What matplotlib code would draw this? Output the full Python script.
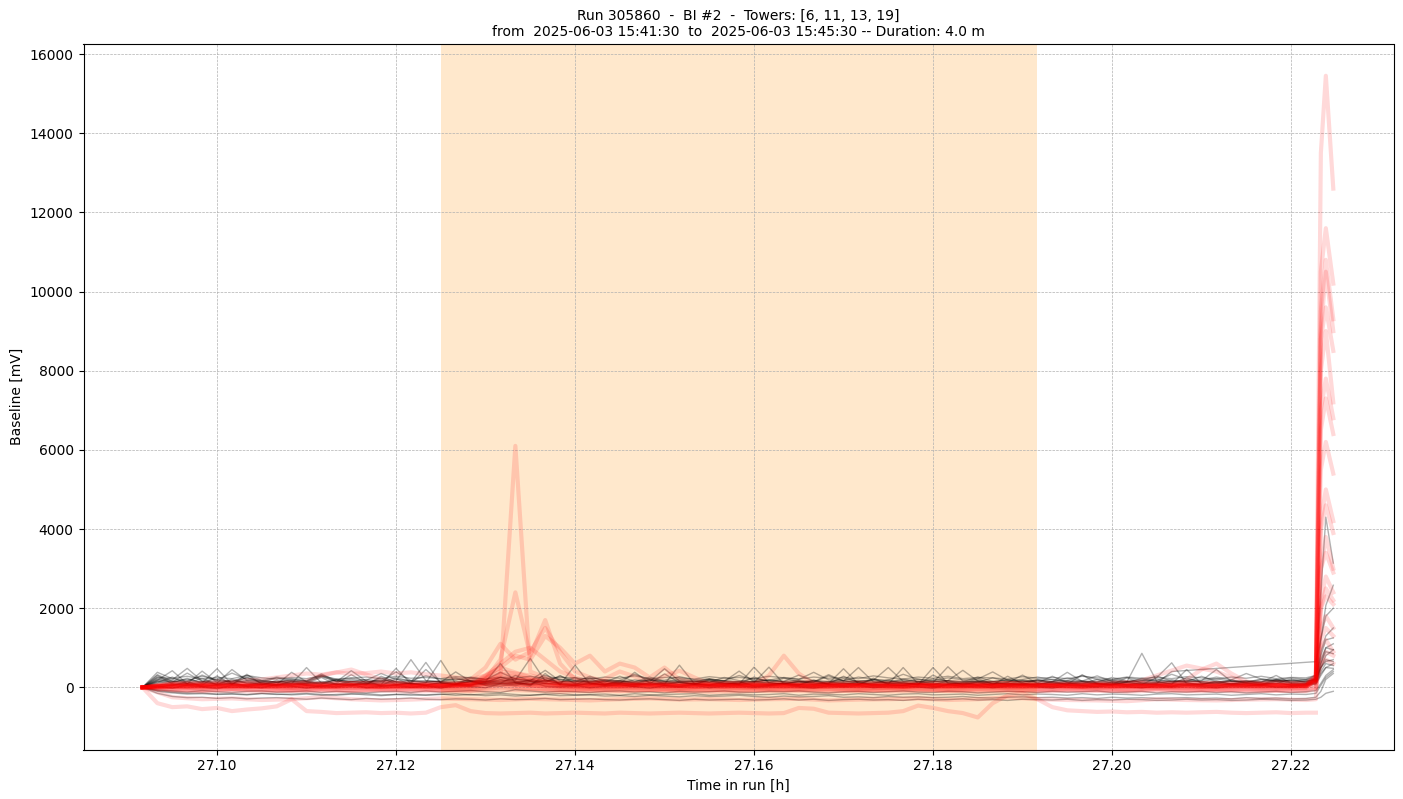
import numpy as np
import matplotlib
matplotlib.use("Agg")
import matplotlib.pyplot as plt

# ---------------- data ----------------
T_START_H = 27.091667          # first sample, hours in run
FINE_SECONDS = list(range(0, 469, 6)) + [472, 474, 476, 479]
COARSE_SECONDS = list(range(0, 469, 12)) + [472, 474, 476, 479]
WINDOW_START_H = 27.125
WINDOW_END_H = 27.191667

N = None

# black traces (fine grid)
black_1 = [0, 320, 150, 90, 410, 120, 80, 260, 110, 70,
           380, 140, 90, 210, 100, 60, 280, 130, 90, 450,
           120, 80, 230, 140, 100, 300, 160, 90, 120, 250,
           100, 70, 180, 110, 90, 340, 120, 80, 200, 110,
           90, 260, 130, 80, 150, 110, 90, 280, 120, 100,
           190, 90, 70, 310, 130, 100, 220, 90, 80, 170,
           110, 280, 120, 90, 200, 100, 140, 860, 150, 90,
           240, 120, 80, 190, 100, 130, 300, 110, 150,
           200, 900, 1300, 1500]
black_2 = [0, 180, 420, 90, 60, 290, 70, 330, 80, 50,
           160, 90, 250, 60, 130, 80, 40, 220, 70, 110,
           680, 90, 60, 140, 600, 110, 80, 260, 90, 60,
           230, 70, 110, 50, 180, 80, 560, 90, 60, 150,
           70, 120, 510, 80, 60, 190, 70, 110, 60, 230,
           80, 500, 90, 60, 170, 70, 120, 60, 280, 90,
           60, 150, 80, 320, 90, 60, 130, 70, 250, 620,
           90, 60, 170, 80, 110, 60, 200, 90, 100,
           150, 500, 700, 650]
black_3 = [0, 250, 190, 480, 160, 210, 140, 300, 180, 130,
           220, 160, 340, 150, 200, 130, 190, 160, 700, 170,
           140, 210, 160, 130, 250, 180, 730, 160, 200, 140,
           170, 130, 280, 150, 190, 140, 210, 160, 130, 250,
           170, 140, 190, 150, 310, 160, 130, 220, 150, 180,
           500, 150, 130, 210, 160, 140, 260, 150, 180, 130,
           170, 200, 140, 160, 290, 150, 130, 230, 160, 190,
           140, 170, 450, 150, 130, 210, 160, 180, 200,
           300, 2400, 4300, 3140]
black_4 = [0, 120, 260, 90, 150, 70, 210, 100, 60, 180,
           90, 500, 110, 70, 160, 90, 240, 80, 120, 630,
           100, 70, 150, 90, 130, 80, 200, 110, 300, 90,
           70, 160, 100, 80, 220, 90, 130, 70, 180, 100,
           80, 510, 110, 90, 160, 70, 140, 100, 80, 200,
           90, 130, 70, 500, 100, 80, 170, 90, 110, 70,
           190, 100, 80, 150, 90, 70, 240, 100, 130, 80,
           450, 90, 120, 80, 160, 100, 90, 210, 120,
           180, 1200, 2070, 2580]
black_5 = [0, 90, 40, 150, 20, 60, 110, 30, 80, 40,
           130, 50, 20, 90, 40, 170, 30, 60, 100, 40,
           20, 80, 140, 50, 30, 90, 40, 350, 60, 30,
           110, 40, 70, 20, 130, 50, 30, 90, 40, 60,
           150, 30, 50, 100, 40, 20, 80, 50, 130, 30,
           60, 40, 110, 20, 70, 50, 140, 30, 60, 90,
           40, 20, 100, 50, 30, 130, 60, 40, 80, 30,
           120, 50, 30, 90, 60, 40, 150, 50, 70,
           120, 500, 800, 950]
black_6 = [0, -80, -120, -150, -140, -170, -160, -180, -150, -170,
           -190, -170, -200, -180, -160, -190, -210, -180, -200, -190,
           -170, -200, -180, -210, -190, -220, -200, -180, -210, -200,
           -190, -220, -210, -230, -200, -220, -240, -210, -230, -220,
           -200, -230, -250, -220, -240, -230, -210, -250, -240, -260,
           -230, -250, -240, -260, -250, -230, -260, -270, -250, -240,
           -260, -250, -270, -260, -280, -250, -270, -260, -280, -270,
           -260, -280, -270, -290, -260, -280, -270, -290, -280,
           -250, -100, 200, 350]
black_7 = [0, -150, -230, -260, -250, -280, -260, -290, -270, -260,
           -280, -300, -270, -290, -310, -280, -300, -290, -270, -300,
           -310, -290, -300, -320, -290, -310, -300, -280, -310, -300,
           -290, -310, -320, -300, -290, -310, -330, -300, -320, -310,
           -300, -320, -310, -290, -320, -300, -330, -310, -300, -320,
           -310, -330, -300, -320, -310, -290, -320, -310, -330, -300,
           -310, -320, -300, -330, -310, -320, -300, -310, -330, -320,
           -300, -320, -310, -330, -320, -300, -310, -330, -320,
           -300, -250, -150, -100]
black_8 = [0, -60, -90, -120, -80, -110, -130, -100, -90, -120,
           -110, -90, -130, -100, -120, -140, -110, -100, -130, -90,
           -120, -100, -80, -110, -130, -60, -90, -120, -100, -110,
           -130, -100, -90, -120, -110, -140, -100, -120, -110, -90,
           -120, -130, -100, -110, -90, -120, -140, -110, -100, -130,
           -110, -90, -120, -130, -100, -110, -140, -120, -100, -110,
           -130, -100, -120, -110, -90, -130, -120, -100, -140, -110,
           -120, -100, -130, -110, -140, -120, -100, -130, -110,
           -80, 100, 300, 450]
black_9 = [0, 200, 130, 360, 150, 110, 450, 170, 130, 240,
           150, 120, 290, 140, 420, 160, 130, 250, 150, 170,
           130, 390, 150, 120, 200, 140, 170, 430, 160, 130,
           280, 150, 120, 190, 140, 470, 160, 130, 220, 150,
           410, 140, 120, 230, 150, 130, 290, 160, 500, 140,
           130, 210, 150, 120, 520, 160, 130, 240, 150, 130,
           200, 140, 380, 150, 130, 250, 160, 140, 210, 130,
           150, 280, 140, 160, 130, 190, 150, 170, 140,
           200, 600, 1000, 1100]
black_10 = [0, 140, 70, 100, 230, 60, 90, 150, 70, 120,
            60, 110, 80, 180, 60, 90, 140, 70, 100, 60,
            120, 80, 170, 60, 100, 130, 70, 190, 80, 60,
            110, 70, 150, 90, 60, 120, 80, 100, 170, 60,
            90, 130, 70, 110, 60, 160, 80, 90, 130, 70,
            100, 60, 140, 80, 110, 70, 90, 150, 60, 100,
            80, 130, 70, 110, 90, 60, 140, 80, 100, 400,
            N, N, N, N, N, N, N, N, N,
            650, N, 1800, 2000]
black_11 = [0, 380, 220, 170, 280, 190, 360, 210, 170, 260,
            200, 170, 310, 190, 230, 180, 350, 200, 170, 290,
            210, 180, 260, 190, 380, 210, 170, 300, 200, 180,
            240, 190, 170, 330, 200, 180, 270, 190, 210, 170,
            300, 190, 180, 250, 200, 380, 190, 170, 260, 200,
            180, 330, 200, 170, 240, 190, 210, 390, 180, 200,
            260, 190, 170, 300, 200, 180, 250, 190, 170, 330,
            200, 180, 260, 190, 350, 210, 180, 240, 200,
            250, 700, 1000, 950]
black_12 = [0, 40, -20, 60, 10, -30, 50, 20, -10, 70,
            30, -20, 40, 10, 80, -10, 30, 50, 0, 40,
            -20, 60, 20, -10, 90, 40, 150, 30, 10, 50,
            -10, 30, 70, 20, -20, 40, 10, 60, -10, 30,
            50, 0, 30, 80, 10, -20, 40, 20, 60, -10,
            30, 50, 10, -20, 70, 20, 40, -10, 30, 60,
            10, -20, 50, 30, 0, 80, 20, -10, 40, 10,
            60, 20, -10, 40, 30, 70, 0, 20, 50,
            80, 300, 500, 600]
black_13 = [0, 220, 160, 140, 310, 170, 150, 240, 160, 130,
            180, 150, 270, 160, 140, 200, 150, 390, 170, 140,
            160, 240, 150, 170, 140, 210, 160, 150, 280, 170,
            150, 190, 160, 140, 260, 150, 170, 140, 200, 160,
            140, 230, 160, 150, 180, 140, 320, 160, 150, 190,
            160, 140, 210, 150, 170, 430, 160, 140, 200, 150,
            170, 140, 240, 160, 150, 190, 140, 170, 290, 150,
            160, 140, 220, 150, 170, 140, 200, 160, 180,
            220, 500, 650, 700]
black_14 = [0, 150, 110, 230, 100, 90, 170, 120, 100, 140,
            110, 90, 150, 100, 320, 110, 90, 140, 100, 120,
            90, 150, 110, 100, 180, 120, 90, 160, 110, 100,
            140, 100, 90, 380, 110, 100, 150, 90, 120, 100,
            110, 160, 100, 90, 140, 110, 100, 170, 90, 110,
            130, 100, 90, 160, 110, 100, 140, 90, 120, 310,
            100, 90, 150, 110, 100, 130, 90, 120, 100, 160,
            110, 90, 140, 100, 120, 90, 160, 110, 100,
            150, 400, 600, 550]
black_15 = [0, 260, 230, 280, 210, 250, 220, 300, 240, 210,
            250, 220, 290, 210, 240, 260, 220, 280, 230, 250,
            220, 270, 240, 210, 260, 230, 280, 220, 250, 240,
            210, 260, 230, 290, 220, 250, 240, 210, 270, 230,
            250, 220, 280, 240, 210, 260, 230, 250, 220, 290,
            240, 210, 260, 230, 280, 220, 250, 240, 210, 270,
            230, 250, 220, 280, 240, 210, 260, 230, 250, 220,
            270, 240, 210, 260, 230, 280, 220, 250, 240,
            300, 800, 1200, 1250]
black_16 = [0, -100, -140, -170, -160, -180, -170, -190, -160, -180,
            -170, -150, -180, -200, -170, -160, -190, -180, -170, -200,
            -180, -160, -190, -170, -150, -180, -200, -170, -160, -190,
            -180, -170, -200, -160, -190, -180, -170, -160, -200, -180,
            -170, -190, -180, -160, -200, -170, -180, -190, -160, -180,
            -200, -170, -160, -190, -180, -170, -200, -180, -160, -190,
            -170, -180, -200, -160, -190, -170, -180, -200, -170, -160,
            -190, -180, -170, -200, -180, -160, -190, -170, -180,
            -150, 50, 250, 400]
black_17 = [0, 300, 90, 60, 110, 470, 80, 60, 130, 70,
            90, 60, 120, 80, 60, 100, 70, 480, 90, 60,
            110, 70, 60, 90, 80, 120, 60, 100, 70, 560,
            80, 60, 110, 70, 90, 60, 130, 80, 60, 100,
            70, 90, 60, 120, 80, 60, 100, 470, 90, 60,
            80, 110, 60, 90, 70, 120, 60, 80, 100, 60,
            90, 70, 120, 60, 80, 100, 60, 90, 70, 110,
            60, 80, 100, 60, 90, 70, 110, 60, 80,
            100, 350, 500, 480]
black_18 = [0, 170, 140, 200, 130, 160, 120, 180, 150, 130,
            160, 140, 120, 190, 150, 130, 170, 140, 160, 130,
            150, 120, 180, 140, 250, 160, 130, 190, 140, 160,
            130, 170, 140, 120, 180, 150, 130, 160, 140, 170,
            130, 150, 180, 140, 120, 170, 150, 130, 160, 140,
            120, 180, 150, 130, 170, 140, 160, 120, 150, 180,
            140, 130, 170, 150, 120, 160, 140, 180, 130, 150,
            170, 140, 120, 160, 150, 130, 180, 140, 160,
            180, 600, 900, 850]

# red traces (fine grid)
red_f1 = [0, 30, 10, 40, 20, 0, 30, 50, 20, 10,
          40, 20, 0, 30, 50, 20, 10, 40, 30, 20,
          30, 50, 70, 120, 300, 6100, 400, 250, 120, 80,
          60, 40, 30, 50, 20, 40, 30, 10, 30, 20,
          40, 20, 30, 50, 20, 10, 40, 30, 20, 40,
          30, 10, 40, 20, 30, 50, 20, 40, 10, 30,
          20, 40, 30, 10, 30, 20, 40, 30, 20, 50,
          30, 20, 40, 30, 10, 40, 30, 20, 50,
          200, 9500, 10800, 9300]
red_f2 = [0, 20, 40, 10, 30, 50, 20, 30, 10, 40,
          20, 30, 50, 20, 10, 40, 30, 20, 40, 10,
          30, 60, 90, 200, 700, 2400, 800, 1700, 600, 200,
          120, 80, 60, 40, 50, 30, 40, 20, 30, 50,
          30, 20, 40, 30, 50, 20, 30, 40, 20, 30,
          40, 20, 30, 50, 20, 40, 30, 20, 40, 30,
          20, 30, 40, 20, 50, 30, 20, 40, 30, 20,
          40, 30, 20, 50, 30, 20, 40, 30, 20,
          150, 8800, 9600, 8500]
red_f3 = [0, 40, 20, 50, 30, 10, 40, 20, 50, 30,
          20, 40, 30, 10, 50, 20, 40, 30, 20, 50,
          40, 80, 200, 500, 1100, 700, 900, 1500, 900, 400,
          250, 150, 100, 80, 60, 50, 40, 60, 30, 50,
          40, 80, 300, 800, 350, 100, 60, 40, 50, 30,
          40, 20, 50, 30, 40, 20, 50, 30, 40, 20,
          50, 30, 40, 20, 50, 30, 40, 20, 50, 30,
          40, 20, 50, 30, 40, 20, 50, 30, 40,
          180, 7000, 7800, 6800]
red_f4 = [0, 30, 50, 20, 40, 30, 50, 20, 40, 30,
          50, 30, 20, 40, 50, 30, 20, 40, 30, 50,
          30, 50, 100, 300, 500, 800, 700, 1300, 1000, 600,
          800, 400, 600, 500, 250, 500, 200, 120, 80, 60,
          50, 40, 60, 30, 50, 40, 60, 30, 50, 40,
          60, 30, 50, 40, 60, 30, 50, 40, 60, 30,
          50, 40, 60, 30, 50, 40, 60, 30, 50, 40,
          200, 450, 600, 350, 150, 80, 60, 40, 50,
          200, 5500, 6200, 5400]
red_f5 = [0, 50, 80, 120, 100, 150, 130, 180, 200, 250,
          300, 350, 320, 380, 340, 360, 400, 350, 380, 330,
          300, 250, 200, 300, 600, 900, 1000, 700, 400, 250,
          150, 100, 80, 60, 50, 70, 40, 60, 50, 40,
          60, 50, 40, 60, 50, 40, 60, 50, 40, 60,
          50, 40, 60, 50, 40, 60, 50, 40, 60, 50,
          40, 60, 50, 40, 60, 50, 40, 60, 50, 40,
          60, 50, 40, 60, 50, 40, 60, 50, 40,
          250, 10500, 11600, 10200]
red_f6 = [0, -400, -500, -480, -550, -520, -600, -560, -530, -480,
          -300, -600, -620, -650, -640, -630, -650, -640, -660, -640,
          -500, -450, -600, -650, -660, -650, -640, -660, -650, -640,
          -650, -660, -640, -650, -660, -650, -640, -650, -660, -650,
          -640, -650, -660, -650, -520, -540, -640, -650, -660, -650,
          -640, -600, -460, -520, -600, -650, -760, -400, -200, -150,
          -300, -500, -580, -600, -620, -610, -630, -620, -640, -630,
          -640, -630, -620, -640, -650, -640, -630, -650, -640,
          -640, N, N, N]

# red traces (coarse grid)
red_c1 = [0, 20, -10, 30, 10, 40, 20, 0, 30, 10,
          20, 40, 150, 60, 30, 10, 20, 40, 10, 30,
          20, 0, 30, 10, 40, 20, 30, 10, 20, 40,
          10, 30, 20, 0, 40, 20, 10, 30, 20, 40,
          300, 13500, 15450, 12600]
red_c2 = [0, 40, 60, 30, 50, 70, 40, 60, 30, 50,
          60, 80, 300, 200, 80, 60, 40, 70, 50, 60,
          40, 70, 50, 30, 60, 80, 50, 40, 70, 50,
          60, 40, 70, 50, 30, 60, 50, 70, 40, 60,
          250, 9000, 10500, 9000]
red_c3 = [0, -30, -10, -40, -20, -50, -30, -10, -40, -20,
          -30, -10, 100, 50, -20, -40, -10, -30, -50, -20,
          -10, -40, -30, -20, -50, -10, -30, -40, -20, -10,
          -40, -30, -20, -50, -10, -30, -40, -20, -30, -10,
          100, 8000, 9000, 7200]
red_c4 = [0, 80, 100, 70, 90, 110, 80, 100, 120, 90,
          100, 80, 400, 300, 120, 100, 90, 110, 80, 100,
          120, 90, 100, 80, 110, 90, 120, 100, 80, 110,
          90, 100, 80, 120, 90, 110, 100, 80, 120, 100,
          300, 4200, 5000, 4200]
red_c5 = [0, 10, 30, 0, 20, -10, 10, 30, 0, 20,
          10, 30, 200, 100, 20, 0, 10, 30, -10, 20,
          0, 10, 30, 20, 0, -10, 20, 10, 30, 0,
          20, 10, -10, 30, 0, 20, 10, 30, 20, 0,
          200, 3000, 3800, 3000]
red_c6 = [0, -60, -80, -50, -70, -90, -60, -80, -50, -70,
          -60, -80, 0, -30, -70, -50, -80, -60, -90, -70,
          -50, -80, -60, -70, -90, -60, -50, -80, -70, -60,
          -80, -60, -90, -70, -50, -80, -60, -70, -90, -80,
          0, 1500, 1800, 1500]
red_c7 = [0, 60, 40, 70, 50, 30, 60, 40, 70, 50,
          40, 60, 500, 250, 60, 40, 70, 50, 30, 60,
          40, 60, 50, 70, 40, 30, 60, 50, 40, 70,
          50, 40, 60, 30, 50, 70, 40, 60, 50, 40,
          200, 1000, 1200, 900]
red_c8 = [0, 30, 50, 20, 40, 60, 30, 50, 20, 40,
          30, 50, 100, 60, 40, 20, 50, 30, 40, 60,
          30, 50, 20, 40, 60, 30, 50, 40, 20, 50,
          40, 30, 50, 20, 40, 60, 30, 50, 40, 30,
          150, 600, 700, 600]
red_c9 = [0, -250, -300, -280, -320, -300, -250, -300, -330, -310,
          -280, -300, -320, -290, -310, -330, -300, -280, -310, -300,
          -320, -300, -290, -330, -310, -300, -280, -320, -300, -250,
          -300, -320, -330, -350, -300, -320, -330, -310, -300, -320,
          -300, 2000, 2500, 2200]
red_c10 = [0, 90, 70, 100, 80, 60, 90, 110, 70, 80,
           100, 70, 250, 150, 90, 80, 60, 100, 70, 90,
           80, 110, 70, 90, 60, 100, 80, 70, 90, 110,
           70, 80, 100, 60, 90, 80, 110, 70, 90, 80,
           200, 2200, 2800, 2400]
red_c11 = [0, -50, -70, -40, -60, -80, -50, -70, -60, -40,
           -70, -50, 50, -20, -60, -80, -40, -70, -50, -60,
           -80, -50, -60, -40, -70, -60, -50, -80, -40, -60,
           -70, -50, -60, -80, -40, -60, -70, -50, -60, -40,
           0, 600, 900, 800]
red_c12 = [0, 40, 30, 60, 50, 30, 300, 450, 200, 50,
           40, 60, 350, 200, 50, 30, 400, 150, 420, 80,
           100, 40, 60, 30, 50, 40, 60, 30, 50, 40,
           60, 30, 50, 40, 60, 30, 50, 40, 60, 30,
           150, 3000, 3400, 2900]
red_c13 = [0, 110, 90, 120, 100, 130, 90, 110, 120, 100,
           90, 120, 200, 180, 110, 100, 130, 90, 110, 120,
           100, 90, 130, 110, 120, 100, 90, 130, 110, 100,
           120, 90, 110, 130, 100, 120, 90, 110, 130, 100,
           250, 6500, 7300, 6400]
red_c14 = [0, -80, -100, -90, -110, -70, -100, -90, -80, -110,
           -90, -100, -60, -80, -110, -90, -100, -70, -90, -110,
           -100, -80, -90, -110, -70, -100, -90, -80, -110, -90,
           -100, -90, -70, -110, -80, -100, -90, -110, -80, -100,
           -50, 1200, 1500, 1300]
red_c15 = [0, 20, 10, 30, 20, 0, 20, 30, 10, 20,
           30, 10, 60, 40, 20, 30, 10, 20, 30, 0,
           20, 30, 10, 20, 40, 10, 20, 30, 20, 10,
           30, 20, 10, 30, 20, 0, 20, 30, 10, 20,
           150, 4000, 4600, 3900]
red_c16 = [0, 50, 60, 40, 50, 70, 40, 60, 50, 40,
           60, 50, 150, 100, 40, 60, 50, 70, 40, 50,
           60, 40, 50, 70, 50, 40, 60, 50, 40, 60,
           50, 70, 40, 60, 300, 550, 400, 100, 60, 50,
           200, 2000, 2300, 2100]

BLACK_FINE = [black_1, black_2, black_3, black_4, black_5, black_6,
              black_7, black_8, black_9, black_10, black_11, black_12,
              black_13, black_14, black_15, black_16, black_17, black_18]
RED_FINE = [red_f1, red_f2, red_f3, red_f4, red_f5, red_f6]
RED_COARSE = [red_c1, red_c2, red_c3, red_c4, red_c5, red_c6,
              red_c7, red_c8, red_c9, red_c10, red_c11, red_c12,
              red_c13, red_c14, red_c15, red_c16]

TITLE = ("Run 305860  -  BI #2  -  Towers: [6, 11, 13, 19]\n"
         "from  2025-06-03 15:41:30  to  2025-06-03 15:45:30 -- Duration: 4.0 m")

# ---------------- plotting ----------------
t_fine = T_START_H + np.array(FINE_SECONDS, dtype=float) / 3600.0
t_coarse = T_START_H + np.array(COARSE_SECONDS, dtype=float) / 3600.0


def as_xy(t, vals):
    v = np.array([np.nan if x is None else x for x in vals], dtype=float)
    n = min(len(t), len(v))
    tt, vv = t[:n], v[:n]
    ok = np.isfinite(vv)
    return tt[ok], vv[ok]


fig = plt.figure(figsize=(14.03, 7.99), dpi=100)
ax = fig.add_axes([83.5 / 1403, 49.5 / 799, 1310 / 1403, 705.5 / 799])

ax.axvspan(WINDOW_START_H, WINDOW_END_H, color="darkorange", alpha=0.2, lw=0)

for s in BLACK_FINE:
    x, y = as_xy(t_fine, s)
    ax.plot(x, y, color="black", lw=1.0, alpha=0.3)

for s in RED_COARSE[:8]:
    x, y = as_xy(t_coarse, s)
    ax.plot(x, y, color="red", lw=3.0, alpha=0.15)
for s in RED_FINE:
    x, y = as_xy(t_fine, s)
    ax.plot(x, y, color="red", lw=3.0, alpha=0.15)
for s in RED_COARSE[8:]:
    x, y = as_xy(t_coarse, s)
    ax.plot(x, y, color="red", lw=3.0, alpha=0.15)

ax.set_xlim(27.08508, 27.23145)
ax.set_ylim(-1570, 16253)
ax.set_xticks([27.10, 27.12, 27.14, 27.16, 27.18, 27.20, 27.22])
ax.set_xticklabels(["27.10", "27.12", "27.14", "27.16", "27.18", "27.20", "27.22"])
ax.set_yticks([0, 2000, 4000, 6000, 8000, 10000, 12000, 14000, 16000])
ax.grid(True, linestyle="--", linewidth=0.5)
ax.set_xlabel("Time in run [h]")
ax.set_ylabel("Baseline [mV]")
ax.set_title(TITLE, fontsize=10)

fig.savefig("out.png", dpi=100)
